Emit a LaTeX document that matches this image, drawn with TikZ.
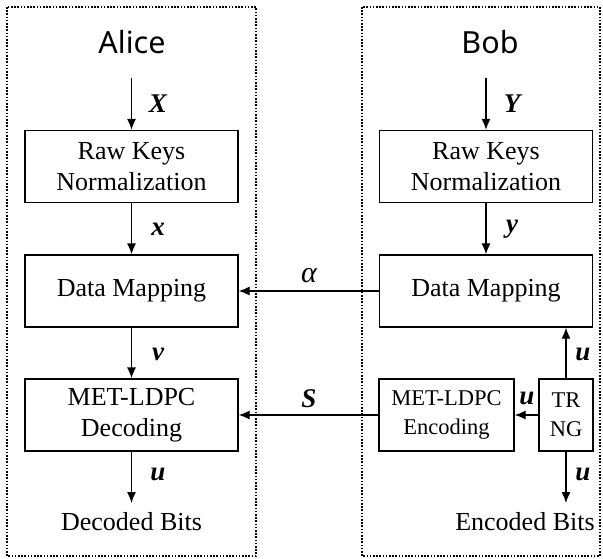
\documentclass[tikz,border=0pt]{standalone}
\usepackage{fontspec}
\setmainfont{Liberation Serif}
\newfontfamily\headfont{Noto Sans}
\usetikzlibrary{arrows.meta}
\begin{document}
\begin{tikzpicture}[x=1pt,y=-1pt,
  blk/.style={draw, line width=1.3pt, minimum width=213pt, minimum height=72pt, align=center, inner sep=0pt, font=\fontsize{26}{31}\selectfont},
  arr/.style={-{Latex[length=11pt,width=9pt]}, line width=1.3pt},
  lab/.style={font=\fontsize{27}{28}\selectfont\bfseries\itshape},
  head/.style={font=\headfont\fontsize{30.5}{32}\selectfont},
  txt/.style={font=\fontsize{26}{28}\selectfont},
  frame/.style={line width=1.2pt, dash pattern=on 1.6pt off 1.6pt}]
\useasboundingbox (0,0) rectangle (603,559);
% frames
\draw[frame] (7,7) rectangle (256,556);
\draw[frame] (362,7) rectangle (600,556);
% headings
\node[head] (alice) at (132,42) {Alice};
\node[head] (bob) at (490,42) {Bob};
% Alice blocks
\node[blk] (arn) at (131.5,166.5) {Raw Keys\\Normalization};
\node[blk] (adm) at (131.5,291) {Data Mapping};
\node[blk] (adec) at (131.5,415) {MET-LDPC\\Decoding};
% Bob blocks
\node[blk] (brn) at (486,166.5) {Raw Keys\\Normalization};
\node[blk] (bdm) at (486,291) {Data Mapping};
\node[blk, minimum width=135pt, font=\fontsize{22.5}{29}\selectfont] (benc) at (446.5,415) {MET-LDPC\\Encoding};
\node[blk, minimum width=54pt, font=\fontsize{22.5}{29}\selectfont] (trng) at (566,415) {TR\\NG};
% coordinates
\coordinate (ain) at (131.5,78);
\coordinate (bin) at (486,78);
\coordinate (aend) at (131.5,503);
\coordinate (bend) at (566,503);
% Alice arrows
\draw[arr] (ain) -- (arn.north);
\draw[arr] (arn) -- (adm);
\draw[arr] (adm) -- (adec);
\draw[arr] (adec.south) -- (aend);
% Bob arrows
\draw[arr] (bin) -- (brn.north);
\draw[arr] (brn) -- (bdm);
\draw[arr] (trng.north) -- (trng.north |- bdm.south);
\draw[arr] (trng.west) -- (benc.east);
\draw[arr] (trng.south) -- (bend);
% cross arrows
\draw[arr] (bdm.west) -- (adm.east);
\draw[arr] (benc.west) -- (adec.east);
% labels
\node[lab] (lX) at (158,104) {X};
\node[lab] (lx) at (158,229) {x};
\node[lab] (lv) at (158,354) {v};
\node[lab] (lu) at (158,474) {u};
\node[lab] (lY) at (512,104) {Y};
\node[lab] (ly) at (512,229) {y};
\node[lab] (lu2) at (583,354) {u};
\node[lab] (lu3) at (583,474) {u};
\node[lab] (lu4) at (527,398) {u};
\node[font=\fontsize{30}{30}\selectfont\itshape] (lalpha) at (309,276) {α};
\node[lab] (lS) at (309,399) {S};
% end texts
\node[txt] (dec) at (131.5,522) {Decoded Bits};
\node[txt] (enc) at (525,522) {Encoded Bits};
\end{tikzpicture}
\end{document}
